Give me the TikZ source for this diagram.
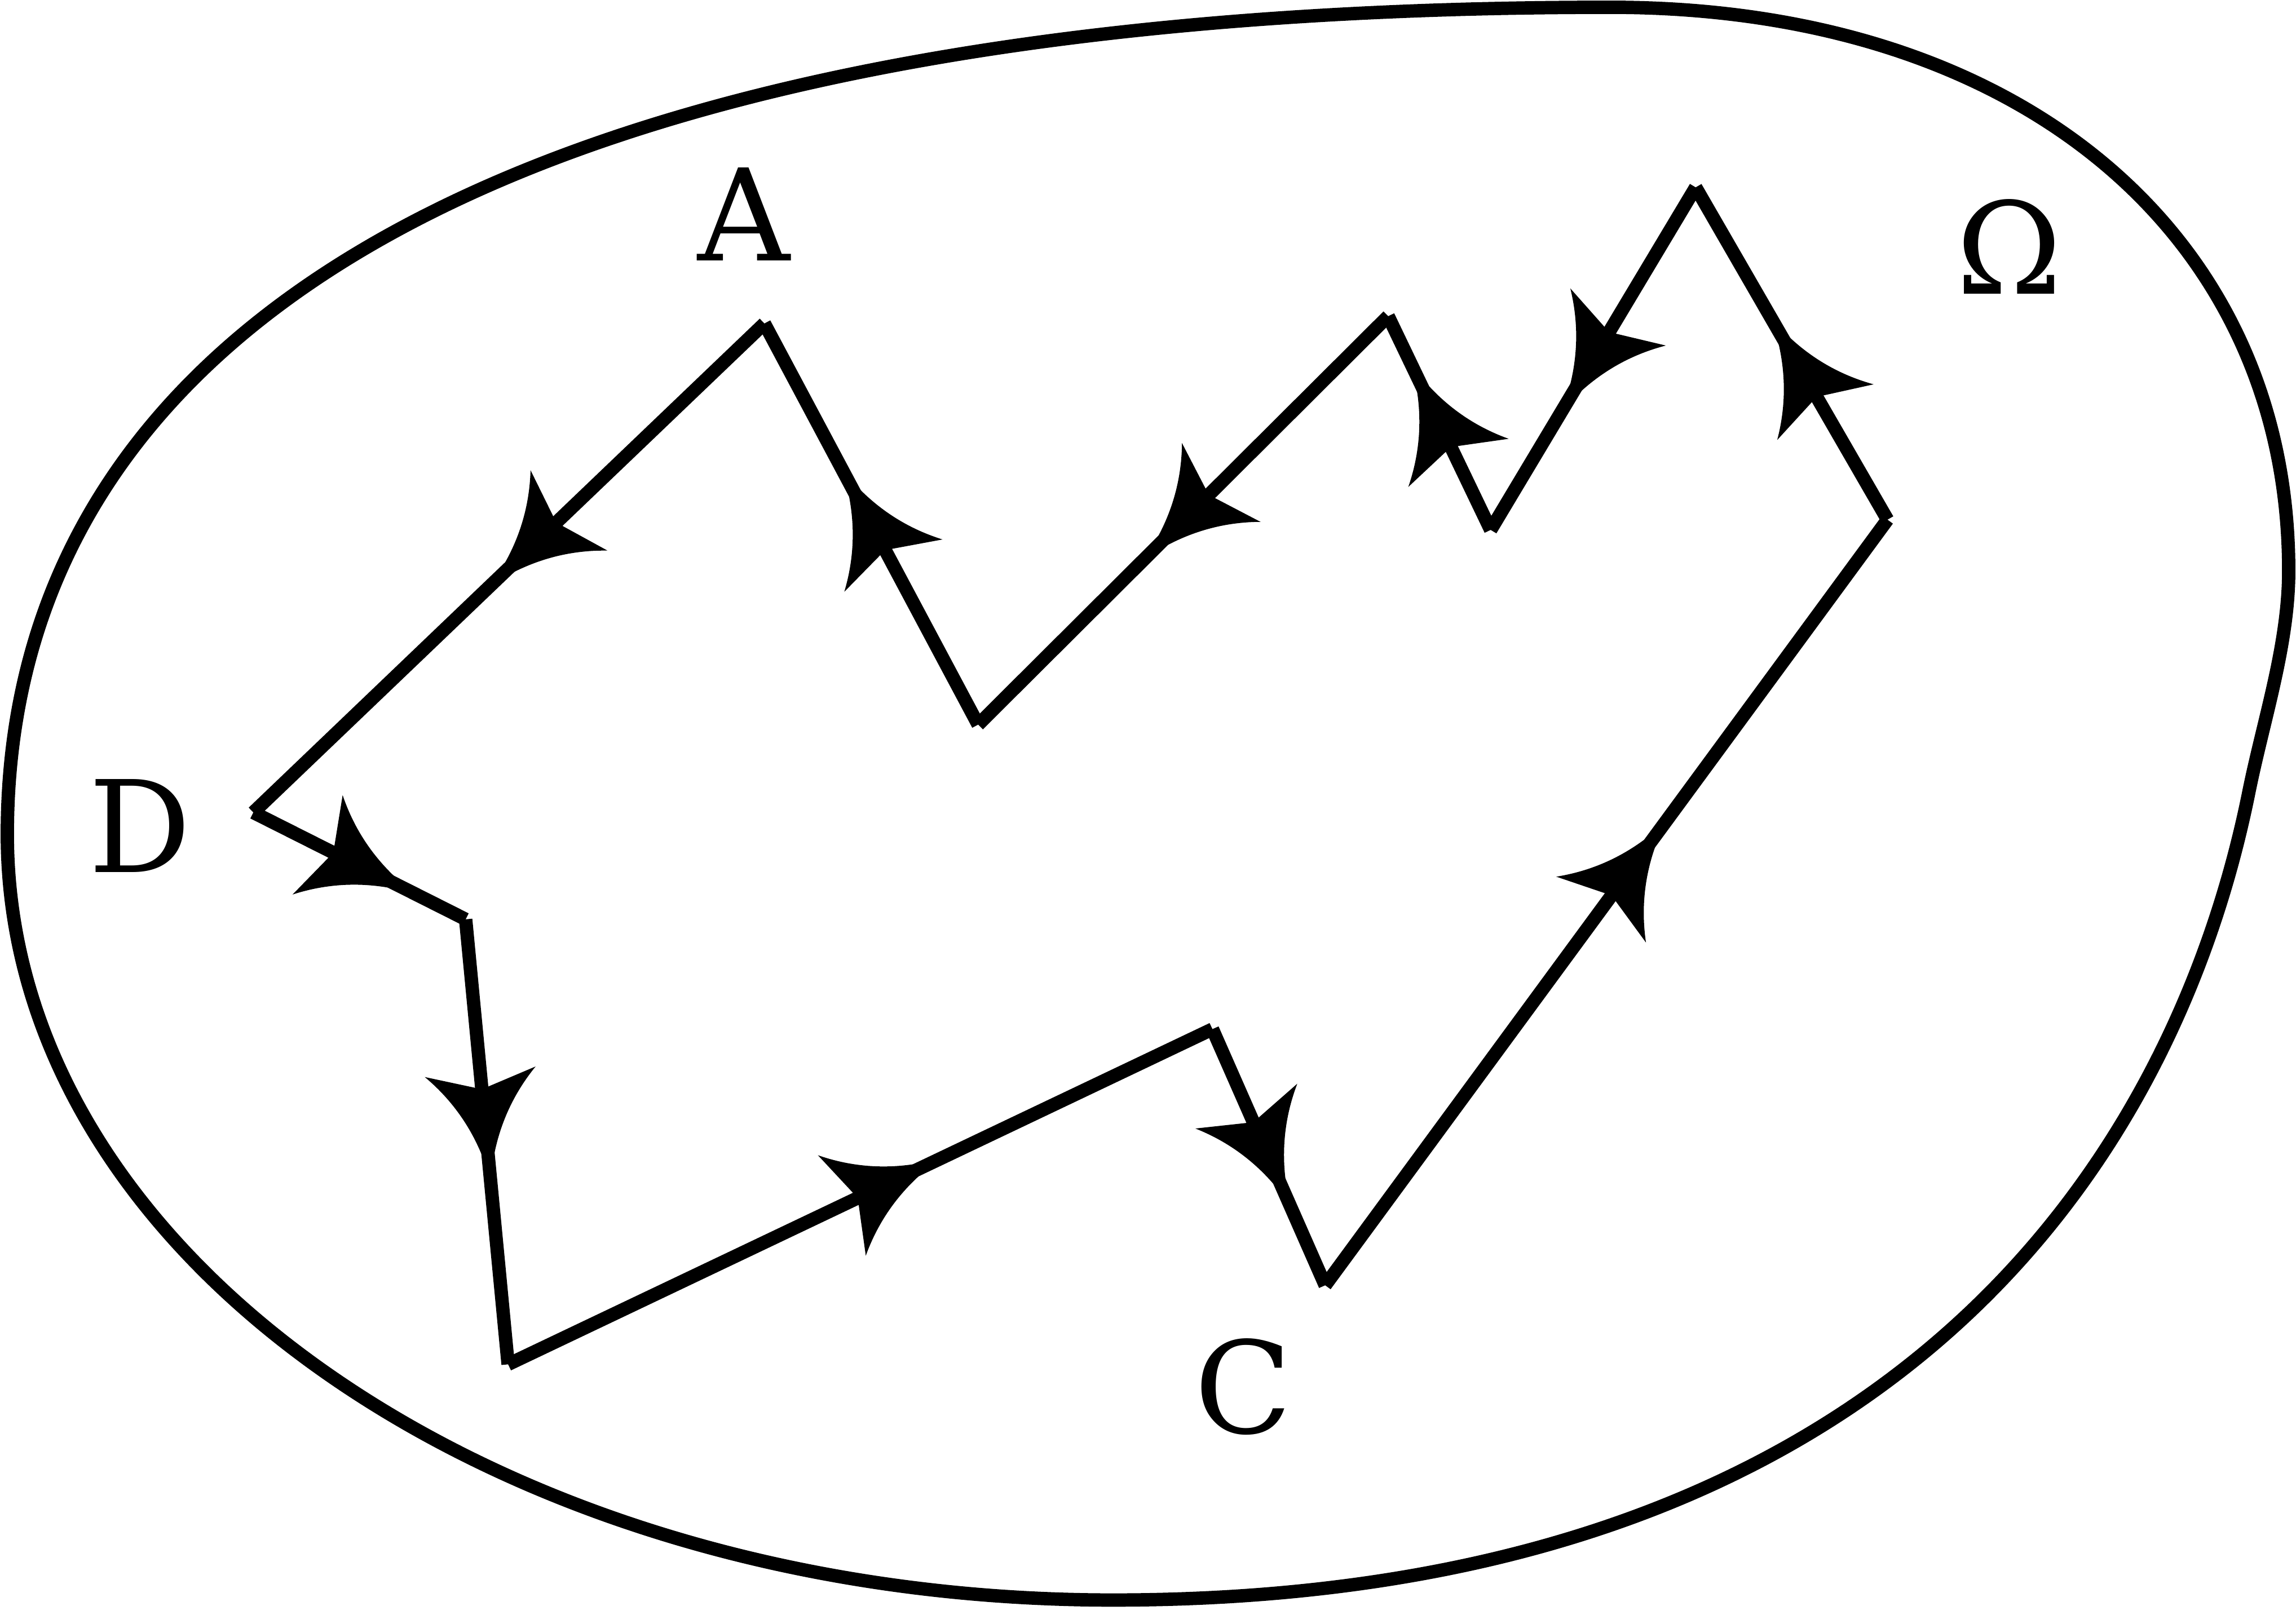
\documentclass[tikz,border=0pt]{standalone}
\usepackage{fontspec}
\setmainfont{DejaVu Serif}
\usepackage{tikz}
\usetikzlibrary{decorations.markings}
\tikzset{
  bnd/.style={line width=2.6pt},
  seg/.style={line width=2.6pt, postaction={decorate},
    decoration={markings, mark=at position #1 with {
      \fill (0,0.045) .. controls (-0.214,0.111) and (-0.401,0.223) .. (-0.56,0.38)
        -- (-0.44,0) -- (-0.56,-0.38)
        .. controls (-0.401,-0.223) and (-0.214,-0.111) .. (0,-0.045) -- cycle;}}},
  seg/.default=0.5,
  lbl/.style={anchor=base, font=\fontsize{24.8}{30}\selectfont},
}

\begin{document}
\begin{tikzpicture}
  \useasboundingbox (0,0) rectangle (15.68,11.03);
  % region Omega
  \draw[bnd] (0.05,5.33) .. controls (0.05,8.83) and (3.55,10.98) .. (11.00,10.98)
    .. controls (13.78,10.98) and (15.63,9.44) .. (15.63,7.13)
    .. controls (15.63,6.63) and (15.46,6.12) .. (15.36,5.63)
    .. controls (14.87,3.18) and (13.00,0.10) .. (7.60,0.10)
    .. controls (3.43,0.10) and (0.05,2.43) .. cycle;
  % corners of the closed path
  \coordinate (vA) at (5.22,8.82);
  \coordinate (vD) at (1.73,5.48);
  \coordinate (v3) at (3.18,4.75);
  \coordinate (v4) at (3.47,1.71);
  \coordinate (v5) at (8.28,4.00);
  \coordinate (vC) at (9.05,2.25);
  \coordinate (v7) at (12.89,7.48);
  \coordinate (v8) at (11.58,9.75);
  \coordinate (v9) at (10.18,7.41);
  \coordinate (v10) at (9.48,8.87);
  \coordinate (v11) at (6.68,6.08);
  % labels
  \node[lbl] (lA) at (5.08,9.25) {A};
  \node[lbl] (lD) at (0.955,5.07) {D};
  \node[lbl] (lC) at (8.49,1.24) {C};
  \node[lbl] (lOmega) at (13.72,9.02) {Ω};
  % the path, one arrow per side
  \draw[seg] (vA) -- (vD);
  \draw[seg=0.648] (vD) -- (v3);
  \draw[seg=0.526] (v3) -- (v4);
  \draw[seg=0.579] (v4) -- (v5);
  \draw[seg=0.594] (v5) -- (vC);
  \draw[seg=0.577] (vC) -- (v7);
  \draw[seg=0.538] (v7) -- (v8);
  \draw[seg=0.584] (v8) -- (v9);
  \draw[seg=0.66] (v9) -- (v10);
  \draw[seg=0.55] (v10) -- (v11);
  \draw[seg=0.577] (v11) -- (vA);
\end{tikzpicture}
\end{document}
